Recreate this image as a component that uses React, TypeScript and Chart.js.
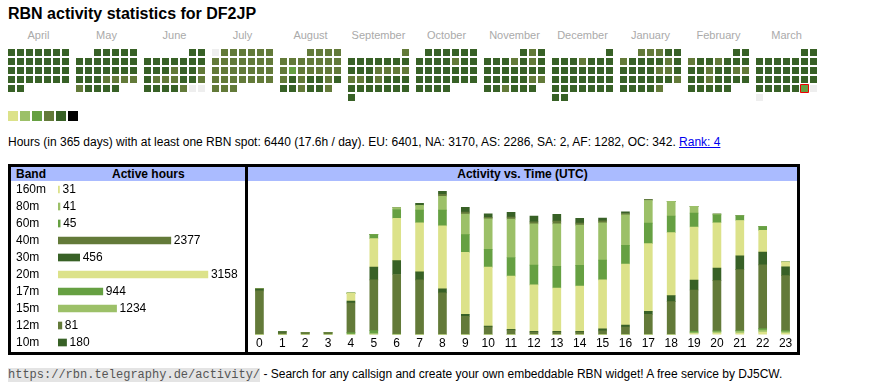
import React, { useEffect, useRef } from "react";
import { Chart, registerables } from "chart.js";

Chart.register(...registerables);

const FONT = '"Liberation Sans", Arial, Helvetica, sans-serif';
const MONO = '"Liberation Mono", "Courier New", monospace';

// ---------- Calendar data (one digit per day: activity level 0..6) ----------
const START_YEAR = 2024;
const START_MONTH = 3; // April (0-based)
const MONTH_NAMES = ["April", "May", "June", "July", "August", "September", "October", "November", "December", "January", "February", "March"];
const APR = "555555555555555555555555555555";
const MAY = "55555" + "5555555" + "5555555" + "5554444" + "45555";
const JUN = "55" + "5555555" + "5554554" + "5444554" + "5555400";
const JUL = "0444444" + "4444444" + "4444444" + "4444444" + "444";
const AUG = "4444" + "4444444" + "4344444" + "4545545" + "554554";
const SEP = "4" + "5555555" + "5554444" + "4454555" + "5555555" + "5";
const OCT = "555555" + "5555455" + "5555555" + "5555555" + "5555";
const NOV = "545" + "5554545" + "5555555" + "5555544" + "554555";
const DEC = "5" + "5554555" + "5555555" + "5555555" + "5555555" + "55";
const JAN = "44455" + "4555545" + "5555445" + "5555554" + "55554";
const FEB = "55" + "4554555" + "5545544" + "5545555" + "55555";
const MAR = "55" + "5555555" + "5555555" + "5555555" + "55555" + "3" + "00";
const MONTH_LEVELS = [APR, MAY, JUN, JUL, AUG, SEP, OCT, NOV, DEC, JAN, FEB, MAR];
const TODAY_MONTH = 11;
const TODAY_DAY = 29;
const LEVEL_COLORS = ["#eeeeee", "#dce28a", "#9cc068", "#66a042", "#637a39", "#386126", "#000000"];
const LEGEND_LEVELS = [1, 2, 3, 4, 5, 6];

// ---------- Band table ----------
const BANDS = ["160m", "80m", "60m", "40m", "30m", "20m", "17m", "15m", "12m", "10m"];
const BAND_HOURS = [31, 41, 45, 2377, 456, 3158, 944, 1234, 81, 180];
const BAND_COLORS = ["#dce28a", "#9cc068", "#66a042", "#637a39", "#386126", "#dce28a", "#66a042", "#9cc068", "#637a39", "#386126"];
const BAND_AXIS_MAX = 3940;

// ---------- Activity vs. time (hours per UTC hour, by band) ----------
const HOURS_UTC = ["0", "1", "2", "3", "4", "5", "6", "7", "8", "9", "10", "11", "12", "13", "14", "15", "16", "17", "18", "19", "20", "21", "22", "23"];
const H_160M = [0, 0, 0, 0, 0, 0, 0, 0, 0, 0, 0, 0, 0, 0, 0, 0, 0, 0, 0, 4, 5, 5, 9, 5];
const H_80M = [0, 0, 0, 0, 2, 4, 0, 0, 0, 0, 0, 0, 0, 0, 0, 0, 0, 0, 0, 3, 5, 6, 7, 5];
const H_60M = [0, 0, 0, 0, 5, 10, 2, 0, 0, 0, 0, 0, 0, 0, 0, 0, 0, 0, 0, 5, 3, 3, 5, 4];
const H_40M = [155, 6, 6, 6, 105, 180, 211, 194, 148, 65, 27, 16, 9, 9, 9, 13, 27, 72, 117, 146, 178, 216, 226, 195];
const H_30M = [7, 5, 0, 0, 7, 45, 49, 28, 14, 7, 3, 3, 3, 3, 3, 7, 7, 10, 21, 35, 45, 49, 45, 31];
const H_20M = [0, 0, 0, 0, 28, 101, 150, 174, 223, 219, 209, 188, 164, 153, 160, 174, 216, 240, 223, 188, 160, 125, 77, 17];
const H_17M = [0, 0, 0, 0, 0, 14, 31, 45, 56, 63, 63, 66, 70, 77, 73, 70, 66, 73, 59, 49, 28, 17, 14, 0];
const H_15M = [0, 0, 0, 0, 0, 0, 7, 17, 49, 73, 108, 136, 146, 150, 143, 132, 108, 80, 52, 24, 3, 0, 0, 0];
const H_12M = [0, 0, 0, 0, 0, 0, 0, 0, 7, 7, 5, 7, 7, 10, 7, 7, 5, 3, 0, 0, 0, 0, 0, 0];
const H_10M = [0, 0, 0, 0, 0, 0, 0, 7, 10, 17, 13, 17, 21, 24, 17, 10, 6, 0, 0, 0, 0, 0, 0, 0];
const ACTIVITY_SERIES = [H_160M, H_80M, H_60M, H_40M, H_30M, H_20M, H_17M, H_15M, H_12M, H_10M];
const ACTIVITY_MAX = 544;

// layout constants for calendar scale
const CELL_PITCH = 9;
const CELL_SIZE = 7;
const MONTH_SLOT = 68 / CELL_PITCH;
const CAL_W = 870;
const CAL_H = 63;
const CAL_X_MIN = -11.5 / CELL_PITCH;
const CAL_Y_MIN = -8.5 / CELL_PITCH;

const valueLabels = {
  id: "valueLabels",
  afterDatasetsDraw(chart: any) {
    const ctx = chart.ctx;
    const meta = chart.getDatasetMeta(0);
    ctx.save();
    ctx.font = `12px ${FONT}`;
    ctx.fillStyle = "#000";
    ctx.textBaseline = "middle";
    ctx.textAlign = "left";
    meta.data.forEach((el: any, i: number) => {
      ctx.fillText(String(chart.data.datasets[0].data[i]), el.x + 3, el.y + 0.5);
    });
    ctx.restore();
  },
};

export default function App() {
  const calRef = useRef<HTMLCanvasElement>(null);
  const bandRef = useRef<HTMLCanvasElement>(null);
  const actRef = useRef<HTMLCanvasElement>(null);

  useEffect(() => {
    const charts: Chart[] = [];
    const points: any[] = [];
    MONTH_LEVELS.forEach((levels, m) => {
      const first = new Date(START_YEAR, START_MONTH + m, 1);
      const offset = (first.getDay() + 6) % 7;
      for (let d = 0; d < levels.length; d++) {
        const idx = offset + d;
        points.push({
          x: m * MONTH_SLOT + (idx % 7),
          y: Math.floor(idx / 7),
          level: Number(levels[d]),
          today: m === TODAY_MONTH && d + 1 === TODAY_DAY,
        });
      }
    });
    const rectRadius = (CELL_SIZE / 2) * Math.SQRT2;

    if (calRef.current) {
      charts.push(
        new Chart(calRef.current, {
          type: "scatter",
          data: {
            datasets: [
              {
                data: points,
                pointStyle: "rect",
                pointRadius: (ctx: any) => (ctx.raw && ctx.raw.today ? rectRadius + 0.5 * Math.SQRT2 : rectRadius),
                pointHoverRadius: rectRadius,
                pointBackgroundColor: (ctx: any) => (ctx.raw ? LEVEL_COLORS[ctx.raw.level] : "#eee"),
                pointBorderColor: (ctx: any) => (ctx.raw && ctx.raw.today ? "#ee0000" : "rgba(0,0,0,0)"),
                pointBorderWidth: (ctx: any) => (ctx.raw && ctx.raw.today ? 1 : 0),
                borderWidth: 0,
                clip: false,
              } as any,
            ],
          },
          options: {
            animation: false,
            responsive: false,
            events: [],
            layout: { padding: 0, autoPadding: false },
            plugins: { legend: { display: false }, tooltip: { enabled: false } },
            scales: {
              x: { type: "linear", display: false, min: CAL_X_MIN, max: CAL_X_MIN + CAL_W / CELL_PITCH },
              y: { type: "linear", display: false, reverse: true, min: CAL_Y_MIN, max: CAL_Y_MIN + CAL_H / CELL_PITCH },
            },
          },
        } as any)
      );
    }

    if (bandRef.current) {
      charts.push(
        new Chart(bandRef.current, {
          type: "bar",
          data: {
            labels: BANDS,
            datasets: [{ data: BAND_HOURS, backgroundColor: BAND_COLORS, barThickness: 7, borderWidth: 0 }],
          },
          options: {
            indexAxis: "y",
            animation: false,
            responsive: false,
            events: [],
            layout: { padding: 0 },
            plugins: { legend: { display: false }, tooltip: { enabled: false } },
            scales: {
              x: { display: false, min: 0, max: BAND_AXIS_MAX },
              y: {
                grid: { display: false, drawTicks: false },
                border: { display: false },
                ticks: { color: "#000", font: { family: FONT, size: 12, lineHeight: 1 }, crossAlign: "far", padding: 0 },
                afterFit: (s: any) => {
                  s.width = 42;
                },
              },
            },
          },
          plugins: [valueLabels],
        } as any)
      );
    }

    if (actRef.current) {
      charts.push(
        new Chart(actRef.current, {
          type: "bar",
          data: {
            labels: HOURS_UTC,
            datasets: ACTIVITY_SERIES.map((s, i) => ({
              label: BANDS[i],
              data: s,
              backgroundColor: BAND_COLORS[i],
              barThickness: 8,
              borderWidth: 0,
            })),
          },
          options: {
            animation: false,
            responsive: false,
            events: [],
            layout: { padding: 0 },
            plugins: { legend: { display: false }, tooltip: { enabled: false } },
            scales: {
              x: {
                stacked: true,
                grid: { display: false, drawTicks: false },
                border: { display: false },
                ticks: { color: "#000", font: { family: FONT, size: 12, lineHeight: 1.2 }, padding: 2, maxRotation: 0, autoSkip: false },
              },
              y: { stacked: true, display: false, min: 0, max: ACTIVITY_MAX },
            },
          },
        } as any)
      );
    }
    return () => charts.forEach((c) => c.destroy());
  }, []);

  const abs = (l: number, t: number, extra: React.CSSProperties = {}): React.CSSProperties => ({
    position: "absolute",
    left: l,
    top: t,
    ...extra,
  });

  return (
    <div style={{ position: "absolute", left: 0, top: 0, width: 870, height: 390, fontFamily: FONT, color: "#000", background: "#fff", overflow: "hidden" }}>
      <div style={abs(8, 5, { fontSize: 16, fontWeight: "bold", lineHeight: "18px", whiteSpace: "nowrap" })}>RBN activity statistics for DF2JP</div>
      {MONTH_NAMES.map((n, m) => (
        <div key={n} style={abs(8 + 68 * m, 29, { width: 61, textAlign: "center", fontSize: 11, lineHeight: "13px", color: "#aaaaaa", whiteSpace: "nowrap" })}>
          {n}
        </div>
      ))}
      <canvas ref={calRef} width={CAL_W} height={CAL_H} style={abs(0, 44, { width: CAL_W, height: CAL_H, display: "block" })} />
      {LEGEND_LEVELS.map((lv, i) => (
        <div key={lv} style={abs(8 + 12 * i, 111, { width: 10, height: 10, background: LEVEL_COLORS[lv] })} />
      ))}
      <div style={abs(8, 135, { fontSize: 12, lineHeight: "14px", whiteSpace: "nowrap" })}>
        Hours (in 365 days) with at least one RBN spot: 6440 (17.6h / day). EU: 6401, NA: 3170, AS: 2286, SA: 2, AF: 1282, OC: 342.{" "}
        <a href="#" style={{ color: "#0000ee", textDecoration: "underline" }}>
          Rank: 4
        </a>
      </div>

      {/* Band table box */}
      <div style={abs(8, 164, { width: 234, height: 185, border: "3px solid #000", background: "#fff" })} />
      <div style={abs(11, 167, { width: 234, height: 14, background: "#aabbff" })} />
      <div style={abs(16, 167, { fontSize: 12, fontWeight: "bold", lineHeight: "14px" })}>Band</div>
      <div style={abs(112, 167, { fontSize: 12, fontWeight: "bold", lineHeight: "14px", whiteSpace: "nowrap" })}>Active hours</div>
      <canvas ref={bandRef} width={229} height={182} style={abs(16, 175, { width: 229, height: 182, display: "block" })} />

      {/* Activity box */}
      <div style={abs(245, 164, { width: 549, height: 185, border: "3px solid #000", background: "transparent" })} />
      <div style={abs(248, 167, { width: 549, height: 14, background: "#aabbff", textAlign: "center", fontSize: 12, fontWeight: "bold", lineHeight: "14px" })}>
        Activity vs. Time (UTC)
      </div>
      <canvas ref={actRef} width={549} height={172} style={abs(248, 181, { width: 549, height: 172, display: "block" })} />

      <div style={abs(8, 367, { fontSize: 12, lineHeight: "14px", whiteSpace: "nowrap" })}>
        <span style={{ fontFamily: MONO, background: "#e4e4e4", color: "#555" }}>https://rbn.telegraphy.de/activity/</span> - Search for any callsign and create your own embeddable RBN widget! A free service by DJ5CW.
      </div>
    </div>
  );
}
